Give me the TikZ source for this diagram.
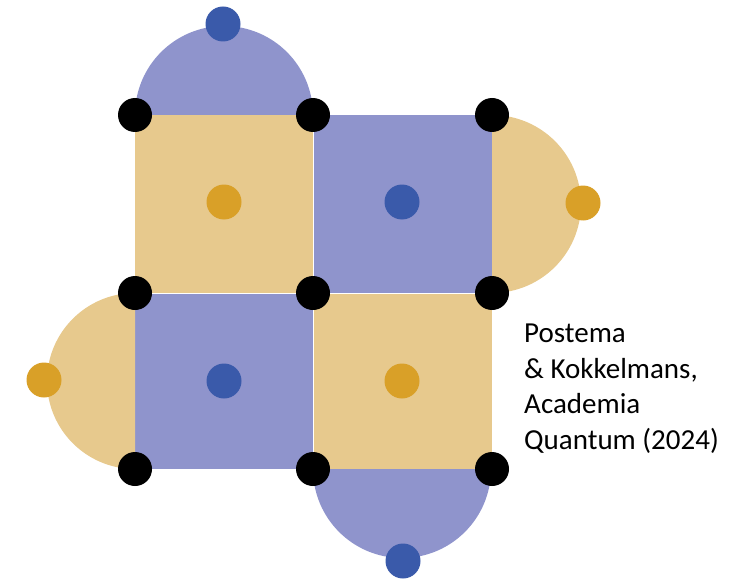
\documentclass[tikz,border=0pt]{standalone}
\usepackage{fontspec}
\setmainfont{Carlito}
\definecolor{tan}{RGB}{231,201,141}
\definecolor{lav}{RGB}{143,148,204}
\definecolor{golddot}{RGB}{217,160,40}
\definecolor{bluedot}{RGB}{58,90,170}
\begin{document}
\begin{tikzpicture}[x=1pt,y=-1pt,
  vtx/.style={circle,fill=black,inner sep=0pt,minimum size=34pt},
  zq/.style={circle,fill=bluedot,inner sep=0pt,minimum size=35pt},
  xq/.style={circle,fill=golddot,inner sep=0pt,minimum size=35pt}]
\useasboundingbox (0,0) rectangle (743,580);
% plaquettes
\fill[tan] (135,115) rectangle (313,293);
\fill[lav] (313,115) rectangle (492,293);
\fill[lav] (135,293) rectangle (313,469);
\fill[tan] (313,293) rectangle (492,469);
% boundary half-disks
\fill[lav] (135,115) arc[start angle=180,end angle=0,x radius=89,y radius=-89] -- cycle;
\fill[tan] (492,115) arc[start angle=90,end angle=-90,x radius=89,y radius=-89] -- cycle;
\fill[tan] (135,293) arc[start angle=90,end angle=270,x radius=88,y radius=-88] -- cycle;
\fill[lav] (313,469) arc[start angle=180,end angle=360,x radius=89,y radius=-89] -- cycle;
% thin seams between plaquettes
\draw[white,line width=1pt] (313,115) -- (313,469) (135,293) -- (492,293);
% ancilla qubits
\node[xq] (a1) at (224,202) {};
\node[zq] (a2) at (402,202) {};
\node[zq] (a3) at (224,381) {};
\node[xq] (a4) at (402,381) {};
\node[zq] (b1) at (223,24) {};
\node[xq] (b2) at (583,203) {};
\node[xq] (b3) at (44,380) {};
\node[zq] (b4) at (403,561) {};
% data qubits
\foreach \i/\x in {1/135,2/313,3/492}
  \foreach \j/\y in {1/115,2/293,3/469}
    \node[vtx] (d\i\j) at (\x,\y) {};
% citation
\node[anchor=north west,align=left,font=\fontsize{29}{35.5}\selectfont,inner sep=0pt]
  (cite) at (524,324) {Postema\\\& Kokkelmans,\\Academia\\Quantum (2024)};
\end{tikzpicture}
\end{document}
